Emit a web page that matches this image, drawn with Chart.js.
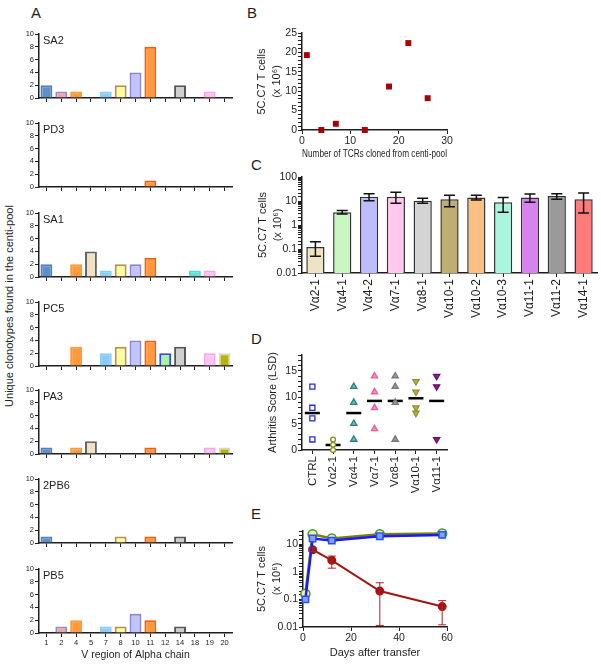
<!DOCTYPE html>
<html lang="en">
<head>
<meta charset="UTF-8">
<title>Centi-pool TCR figure</title>
<script src="https://cdn.jsdelivr.net/npm/chart.js"></script>
<style>
  body { margin: 0; background: #fff; font-family: 'Liberation Sans', Arial, sans-serif; color: #1e1e1e; }
  #fig { position: relative; width: 601px; height: 667px; overflow: hidden; }
  #fig canvas { position: absolute; }
  .panel { position: absolute; font-size: 15px; line-height: 1; }
  .pool { position: absolute; font-size: 11px; line-height: 1; }
  .ytitle { position: absolute; font-size: 11px; line-height: 1; white-space: nowrap;
            transform: translate(-50%, -50%) rotate(-90deg); }
</style>
</head>
<body>
<div id="fig">
  <div class="panel" style="left:31px;top:5px">A</div>
  <div class="panel" style="left:247px;top:5px">B</div>
  <div class="panel" style="left:251px;top:157px">C</div>
  <div class="panel" style="left:251px;top:331px">D</div>
  <div class="panel" style="left:251px;top:506px">E</div>
  <div class="ytitle" style="left:9px;top:306px">Unique clonotypes found in the centi-pool</div>
</div>

<script>
// ---- panel A: clonotypes per V alpha region, one row per centi-pool
const vRegions = ['1', '2', '4', '5', '7', '8', '10', '11', '12', '14', '18', '19', '20'];
const poolNames = ['SA2', 'PD3', 'SA1', 'PC5', 'PA3', '2PB6', 'PB5'];
const sa2  = [2, 1, 1, 0, 1, 2, 4, 8, 0, 2, 0, 1, 0];
const pd3  = [0, 0, 0, 0, 0, 0, 0, 1, 0, 0, 0, 0, 0];
const sa1  = [2, 0, 2, 4, 1, 2, 2, 3, 0, 0, 1, 1, 0];
const pc5  = [0, 0, 3, 0, 2, 3, 4, 4, 2, 3, 0, 2, 2];
const pa3  = [1, 0, 1, 2, 0, 0, 0, 1, 0, 0, 0, 1, 1];
const pb6  = [1, 0, 0, 0, 0, 1, 0, 1, 0, 1, 0, 0, 0];
const pb5  = [0, 1, 2, 0, 1, 1, 3, 2, 0, 1, 0, 0, 0];

// ---- panel B
const tcrsCloned = [1, 4, 7, 13, 18, 22, 26];
const cellsRecovered = [19.3, 0, 1.6, 0, 11.2, 22.4, 8.2];

// ---- panel C
const alphaGenes = ['Vα2-1', 'Vα4-1', 'Vα4-2', 'Vα7-1', 'Vα8-1', 'Vα10-1', 'Vα10-2', 'Vα10-3', 'Vα11-1', 'Vα11-2', 'Vα14-1'];
const cellsMean = [0.12, 3.4, 15, 15, 10.3, 11.8, 14, 8.9, 14, 16, 11.8];
const cellsHigh = [0.2, 4.0, 20, 23, 13, 17.4, 17.4, 14, 19.5, 20, 21.5];
const cellsLow  = [0.05, 2.9, 10.3, 8, 8, 5.8, 11, 3.4, 8.9, 11.8, 3.2];

// ---- panel D
const arthritisGroups = ['CTRL', 'Vα2-1', 'Vα4-1', 'Vα7-1', 'Vα8-1', 'Vα10-1', 'Vα11-1'];
const ctrlScores  = [12, 8, 6, 2];
const va21Scores  = [2, 1, 0];
const va41Scores  = [12, 9, 5, 2];
const va71Scores  = [14, 11, 8, 4];
const va81Scores  = [14, 12, 9, 2];
const va101Scores = [13, 11, 8, 7];
const va111Scores = [14, 12, 2];
const groupMeans  = [7, 0.95, 7, 9.3, 9.3, 9.8, 9.3];

// ---- panel E
const daysAll   = [1, 4, 12, 32, 58];
const blueCells = [0.1, 16, 13.5, 19.3, 21.7];
const oliveCells = [0.16, 23, 16, 23, 24.6];
const redDays   = [4, 12, 32, 58];
const redCells  = [6.3, 2.6, 0.2, 0.055];
const redHigh   = [7.4, 3.7, 0.4, 0.09];
const redLow    = [5.4, 1.35, 0.0114, 0.012];

// colours
const vFills   = ['#5d8fcc', '#f4a3a3', '#ff9a3c', '#efe3c3', '#8ccbf5', '#ffff9c', '#c3c3ff', '#ff9a3c', '#a8f5a0', '#cfcfcf', '#5fe0d2', '#ffc4f0', '#b5b500'];
const vBorders = ['#4f81bd', '#8c8fd0', '#ff9933', '#666666', '#8ccbf5', '#b8904a', '#8888cc', '#ff5a00', '#3344ff', '#555555', '#55d8d8', '#f5a8e6', '#d8d8c8'];
const cFills   = ['#ede4c4', '#c8f7c0', '#bcbcff', '#ffc8ec', '#d4d4d4', '#bfae72', '#ffbf80', '#aaf5dd', '#d882f2', '#9a9a9a', '#ff7b7b'];

Chart.defaults.font.family = "'Liberation Sans', Arial, Helvetica, sans-serif";
Chart.defaults.color = '#1e1e1e';
Chart.defaults.animation = false;
Chart.defaults.responsive = false;
Chart.defaults.plugins.legend.display = false;
Chart.defaults.plugins.tooltip.enabled = false;

const ink = '#1e1e1e';
const border = () => ({ color: ink, width: 1.5 });
const tickGrid = () => ({ drawOnChartArea: false, color: ink, lineWidth: 1, tickLength: 4, offset: false });
const decadeLabel = v => {
  const l = Math.log10(v);
  return Math.abs(l - Math.round(l)) < 1e-9 ? String(v) : '';
};
const everyFive = v => (v % 5 === 0 ? String(v) : '');

function makeCanvas(left, top, width, height) {
  const c = document.createElement('canvas');
  c.width = width;
  c.height = height;
  c.style.left = left + 'px';
  c.style.top = top + 'px';
  document.getElementById('fig').appendChild(c);
  return c.getContext('2d');
}

// error bars drawn on top of bars/points
const errorBars = {
  id: 'errorBars',
  afterDatasetsDraw(chart) {
    const ctx = chart.ctx;
    chart.data.datasets.forEach((ds, di) => {
      if (!ds.errHigh) return;
      const meta = chart.getDatasetMeta(di);
      const yScale = chart.scales[meta.yAxisID];
      ctx.save();
      ctx.strokeStyle = ds.errColor;
      ctx.lineWidth = ds.errWidth;
      meta.data.forEach((el, i) => {
        const yh = yScale.getPixelForValue(ds.errHigh[i]);
        const yl = yScale.getPixelForValue(ds.errLow[i]);
        const c = ds.errCap / 2;
        ctx.beginPath();
        ctx.moveTo(el.x, yh); ctx.lineTo(el.x, yl);
        ctx.moveTo(el.x - c, yh); ctx.lineTo(el.x + c, yh);
        ctx.moveTo(el.x - c, yl); ctx.lineTo(el.x + c, yl);
        ctx.stroke();
      });
      ctx.restore();
    });
  }
};

// ---------- A
const poolTop = [34, 123, 213, 302, 390, 479, 569];
const poolCounts = [sa2, pd3, sa1, pc5, pa3, pb6, pb5];

poolCounts.forEach((counts, i) => {
  const top = poolTop[i];
  const last = i === poolCounts.length - 1;
  const xH = last ? 28 : 6;
  const ctx = makeCanvas(0, top - 8, 242, 8 + 64 + xH);
  new Chart(ctx, {
    type: 'bar',
    data: {
      labels: vRegions,
      datasets: [{
        data: counts.map(v => v || null),
        backgroundColor: vFills,
        borderColor: vBorders,
        borderWidth: 2,
        barPercentage: 0.8,
        categoryPercentage: 1
      }]
    },
    options: {
      devicePixelRatio: 1,
      layout: { padding: { top: 8, right: 10, left: 0, bottom: 0 } },
      scales: {
        x: {
          border: border(), grid: tickGrid(),
          ticks: { display: last, font: { size: 7.5 }, padding: 1, autoSkip: false, maxRotation: 0 },
          title: { display: last, text: 'V region of Alpha chain', font: { size: 10.5 }, padding: 0 },
          afterFit: s => { s.height = xH; }
        },
        y: {
          min: 0, max: 10,
          border: border(), grid: tickGrid(),
          ticks: { stepSize: 2, font: { size: 7.5 }, padding: 1 },
          afterFit: s => { s.width = 39; }
        }
      }
    }
  });
  const lab = document.createElement('div');
  lab.className = 'pool';
  lab.style.left = '43px';
  lab.style.top = (top + 0.5) + 'px';
  lab.textContent = poolNames[i];
  document.getElementById('fig').appendChild(lab);
});

// ---------- B
new Chart(makeCanvas(254, 25, 208, 136), {
  type: 'scatter',
  data: {
    datasets: [{
      data: tcrsCloned.map((x, i) => ({ x: x, y: cellsRecovered[i] })),
      pointStyle: 'rect', pointRadius: 4.2, borderWidth: 0,
      backgroundColor: '#a80000', clip: false
    }]
  },
  options: {
    devicePixelRatio: 1,
    layout: { padding: { top: 8, right: 15, left: 0, bottom: 0 } },
    scales: {
      x: {
        min: 0, max: 30,
        border: border(), grid: tickGrid(),
        ticks: { stepSize: 10, font: { size: 10.5 }, padding: 1 },
        title: { display: true, text: 'Number of TCRs cloned from centi-pool', font: { size: 11 }, padding: 0 },
        afterFit: s => { s.height = 31; }
      },
      y: {
        min: 0, max: 25,
        border: border(), grid: tickGrid(),
        ticks: { stepSize: 1, autoSkip: false, callback: everyFive, font: { size: 10.5 }, padding: 1 },
        title: { display: true, text: ['5C.C7 T cells', '(x 10⁶)'], font: { size: 11, lineHeight: 1.4 }, padding: 0 },
        afterFit: s => { s.width = 48; }
      }
    }
  }
});

// ---------- C
new Chart(makeCanvas(255, 169, 346, 151), {
  type: 'bar',
  data: {
    labels: alphaGenes,
    datasets: [{
      data: cellsMean,
      backgroundColor: cFills,
      borderColor: '#333333',
      borderWidth: 1.5,
      barPercentage: 0.68,
      categoryPercentage: 1,
      errHigh: cellsHigh, errLow: cellsLow, errColor: '#111111', errWidth: 1.5, errCap: 11
    }]
  },
  options: {
    devicePixelRatio: 1,
    layout: { padding: { top: 8, right: 4, left: 0, bottom: 0 } },
    scales: {
      x: {
        border: border(), grid: tickGrid(),
        ticks: { font: { size: 12 }, padding: 2, autoSkip: false, minRotation: 90, maxRotation: 90 },
        afterFit: s => { s.height = 47; }
      },
      y: {
        type: 'logarithmic', min: 0.01, max: 100,
        border: border(), grid: tickGrid(),
        ticks: { autoSkip: false, callback: decadeLabel, font: { size: 10.5 }, padding: 1 },
        title: { display: true, text: ['5C.C7 T cells', '(x 10⁶)'], font: { size: 11, lineHeight: 1.4 }, padding: 0 },
        afterFit: s => { s.width = 47; }
      }
    }
  },
  plugins: [errorBars]
});

// ---------- D
const pts = (group, scores) => scores.map(v => ({ x: group, y: v }));
const markerSet = (data, style, fill, line, rot, r) => ({
  data: data, showLine: false, pointStyle: style, pointRotation: rot || 0,
  pointRadius: r || 3.6, pointBackgroundColor: fill, pointBorderColor: line,
  pointBorderWidth: 1.3, clip: false
});
new Chart(makeCanvas(266, 345, 191, 150), {
  type: 'line',
  data: {
    labels: arthritisGroups,
    datasets: [
      markerSet(pts('CTRL', ctrlScores), 'rect', '#ffffff', '#2a2ad0'),
      markerSet(pts('Vα2-1', va21Scores), 'circle', '#ffffff', '#8a8a10', 0, 2.4),
      markerSet(pts('Vα4-1', va41Scores), 'triangle', '#66c4c4', '#2a7f7f'),
      markerSet(pts('Vα7-1', va71Scores), 'triangle', '#f58cb8', '#e8609e'),
      markerSet(pts('Vα8-1', va81Scores), 'triangle', '#9a9a9a', '#777777'),
      markerSet(pts('Vα10-1', va101Scores), 'triangle', '#b5b54a', '#909030', 180),
      markerSet(pts('Vα11-1', va111Scores), 'triangle', '#8b1a8b', '#6a106a', 180),
      {
        data: arthritisGroups.map((g, i) => ({ x: g, y: groupMeans[i] })),
        showLine: false, pointStyle: 'line', pointRadius: 7.5,
        pointBorderColor: '#000000', pointBorderWidth: 2.5, clip: false
      }
    ]
  },
  options: {
    devicePixelRatio: 1,
    layout: { padding: { top: 8, right: 10, left: 0, bottom: 0 } },
    scales: {
      x: {
        offset: true,
        border: border(), grid: tickGrid(),
        ticks: { font: { size: 11.5 }, padding: 2, autoSkip: false, minRotation: 90, maxRotation: 90 },
        afterFit: s => { s.height = 45; }
      },
      y: {
        min: 0, max: 18,
        border: border(), grid: tickGrid(),
        ticks: { stepSize: 1, autoSkip: false, callback: everyFive, font: { size: 10.5 }, padding: 1 },
        title: { display: true, text: 'Arthritis Score (LSD)', font: { size: 11 }, padding: 0 },
        afterFit: s => { s.width = 36; }
      }
    }
  }
});

// ---------- E
new Chart(makeCanvas(254, 523, 205, 137), {
  type: 'line',
  data: {
    datasets: [
      {
        data: daysAll.map((d, i) => ({ x: d, y: blueCells[i] })),
        borderColor: '#1a1aff', borderWidth: 2.5,
        pointStyle: 'rect', pointRadius: 4.5,
        pointBackgroundColor: '#7fa4ff', pointBorderColor: '#2b4cff', pointBorderWidth: 1.5, clip: false
      },
      {
        data: daysAll.map((d, i) => ({ x: d, y: oliveCells[i] })),
        borderColor: '#7f7f00', borderWidth: 2.5,
        pointStyle: 'circle', pointRadius: 4.5,
        pointBackgroundColor: '#f2f0a0', pointBorderColor: '#3a9a3a', pointBorderWidth: 1.5, clip: false
      },
      {
        data: redDays.map((d, i) => ({ x: d, y: redCells[i] })),
        borderColor: '#a31515', borderWidth: 2,
        pointStyle: 'circle', pointRadius: 3.5,
        pointBackgroundColor: '#a31515', pointBorderColor: '#a31515', clip: false,
        errHigh: redHigh, errLow: redLow, errColor: '#b32020', errWidth: 1, errCap: 8
      }
    ]
  },
  options: {
    devicePixelRatio: 1,
    layout: { padding: { top: 8, right: 12, left: 0, bottom: 0 } },
    scales: {
      x: {
        type: 'linear', min: 0, max: 60,
        border: border(), grid: tickGrid(),
        ticks: { stepSize: 20, font: { size: 10.5 }, padding: 1 },
        title: { display: true, text: 'Days after transfer', font: { size: 11 }, padding: 0 },
        afterFit: s => { s.height = 33; }
      },
      y: {
        type: 'logarithmic', min: 0.01, max: 30,
        border: border(), grid: tickGrid(),
        ticks: { autoSkip: false, callback: decadeLabel, font: { size: 10.5 }, padding: 1 },
        title: { display: true, text: ['5C.C7 T cells', '(x 10⁶)'], font: { size: 11, lineHeight: 1.4 }, padding: 0 },
        afterFit: s => { s.width = 49; }
      }
    }
  },
  plugins: [errorBars]
});
</script>
</body>
</html>
